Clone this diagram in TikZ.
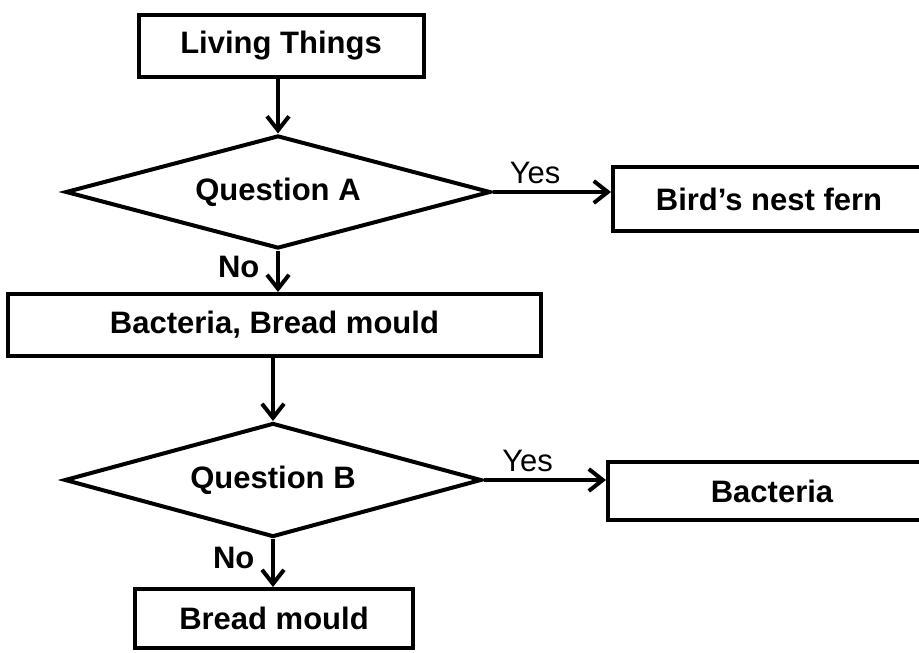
\documentclass[tikz,border=0pt]{standalone}
\usepackage{fontspec}
\setmainfont{Liberation Sans}
\usepackage{tikz}
\usetikzlibrary{arrows.meta, positioning, shapes.geometric}

\begin{document}
\begin{tikzpicture}[
  x=0.5pt, y=-0.5pt,
  box/.style = {rectangle, draw=black, line width=2pt, inner sep=2pt, font=\bfseries\fontsize{15.5}{18}\selectfont, text centered},
  question/.style = {diamond, draw=black, line width=2pt, inner sep=2pt, shape aspect=3.7, font=\bfseries\fontsize{15.5}{18}\selectfont},
  arrow/.style = {-{Straight Barb[length=7pt, width=11pt]}, line width=2pt},
  answer/.style = {font=\fontsize{15.5}{18}\selectfont}
]
\useasboundingbox (0,0) rectangle (919,652);

\node[box, minimum width=142.5pt, minimum height=31pt] (living) at (281,46) {Living Things};
\node[question, minimum width=212.5pt, minimum height=56.5pt] (qa) at (278,192) {Question A};
\node[box, minimum width=156pt, minimum height=31.5pt] (birds) at (769,199) {Bird's nest fern};
\node[box, minimum width=266.5pt, minimum height=31pt] (mixed) at (274.5,325) {Bacteria, Bread mould};
\node[question, minimum width=208.5pt, minimum height=57pt] (qb) at (273,480) {Question B};
\node[box, minimum width=164pt, minimum height=29pt] (bacteria) at (772,491) {Bacteria};
\node[box, minimum width=139pt, minimum height=29.5pt] (bread) at (274,618.5) {Bread mould};

\draw[arrow] (living.south -| qa.north) -- (qa.north);
\draw[arrow] (qa.east) -- (qa.east -| birds.west) node[answer, pos=0.36, above=0pt] {Yes};
\draw[arrow] (qa.south) -- (qa.south |- mixed.north) node[answer, font=\bfseries\fontsize{15.5}{18}\selectfont, pos=0.4, left=5pt] {No};
\draw[arrow] (mixed.south -| qb.north) -- (qb.north);
\draw[arrow] (qb.east) -- (qb.east -| bacteria.west) node[answer, pos=0.36, above=0pt] {Yes};
\draw[arrow] (qb.south) -- (qb.south |- bread.north) node[answer, font=\bfseries\fontsize{15.5}{18}\selectfont, pos=0.4, left=5pt] {No};

\end{tikzpicture}
\end{document}
